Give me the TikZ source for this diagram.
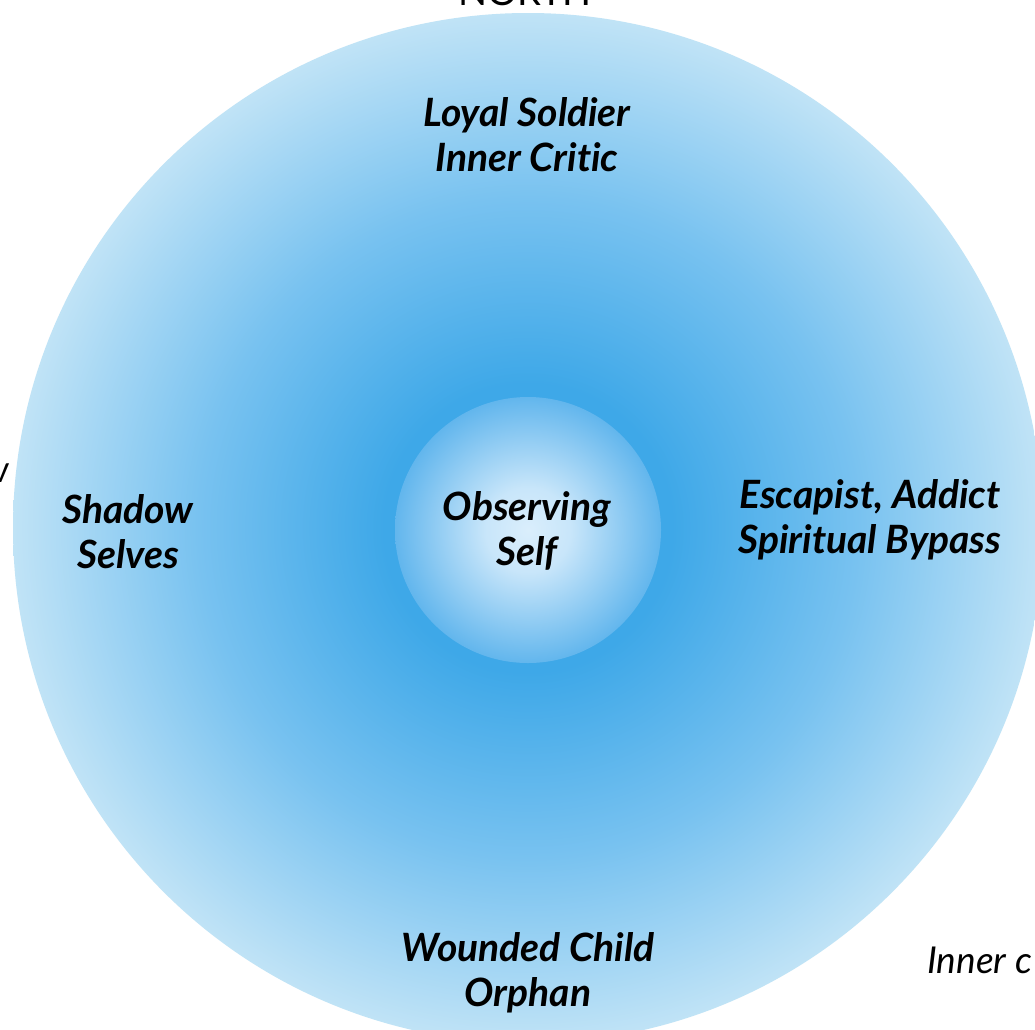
\documentclass[tikz,border=0pt]{standalone}
\usepackage{fontspec}
\setmainfont{Lato}[Ligatures=NoCommon]
\definecolor{bigcore}{RGB}{62,168,232}
\definecolor{bigmid}{RGB}{120,194,240}
\definecolor{bigedge}{RGB}{192,227,246}
\definecolor{smcore}{RGB}{218,238,252}
\definecolor{smedge}{RGB}{98,182,237}
\pgfdeclareradialshading{bigshade}{\pgfpoint{0bp}{0bp}}{color(0bp)=(bigcore); color(7bp)=(bigcore); color(16bp)=(bigmid); color(25bp)=(bigedge); color(50bp)=(bigedge)}
\pgfdeclareradialshading{smallshade}{\pgfpoint{0bp}{0bp}}{color(0bp)=(smcore); color(8bp)=(smcore!85!smedge); color(25bp)=(smedge); color(50bp)=(smedge)}
\tikzset{
  lbl/.style={font=\fontsize{39}{45}\selectfont\bfseries\itshape, align=center, inner sep=0pt, text=black},
  side/.style={font=\fontsize{37}{40}\selectfont\itshape, inner sep=0pt, text=black},
  topt/.style={font=\fontsize{38}{40}\selectfont, inner sep=0pt, text=black}
}
\begin{document}
\begin{tikzpicture}[x=1pt,y=-1pt]
\useasboundingbox (0,0) rectangle (1035,1029);
\clip (0,0) rectangle (1035,1029);
\fill[white] (0,0) rectangle (1035,1029);
\shade[shading=bigshade] (528,528) circle (515);
\shade[shading=smallshade] (528,530) circle (133);
\node[lbl] (loyal) at (527,135) {Loyal Soldier\\Inner Critic};
\node[lbl] (obs) at (527,531) {Observing\\Self};
\node[lbl] (shadow) at (128,532) {Shadow\\Selves};
\node[lbl] (esc) at (870,520) {Escapist, Addict\\Spiritual Bypass};
\node[lbl] (wound) at (528,973) {Wounded Child\\Orphan};
\node[topt, anchor=base] (north) at (525,5) {NORTH};
\node[side, anchor=base west] (inner) at (927,973) {Inner c};
\node[side, anchor=base east] (frag) at (9,482) {w};
\end{tikzpicture}
\end{document}
